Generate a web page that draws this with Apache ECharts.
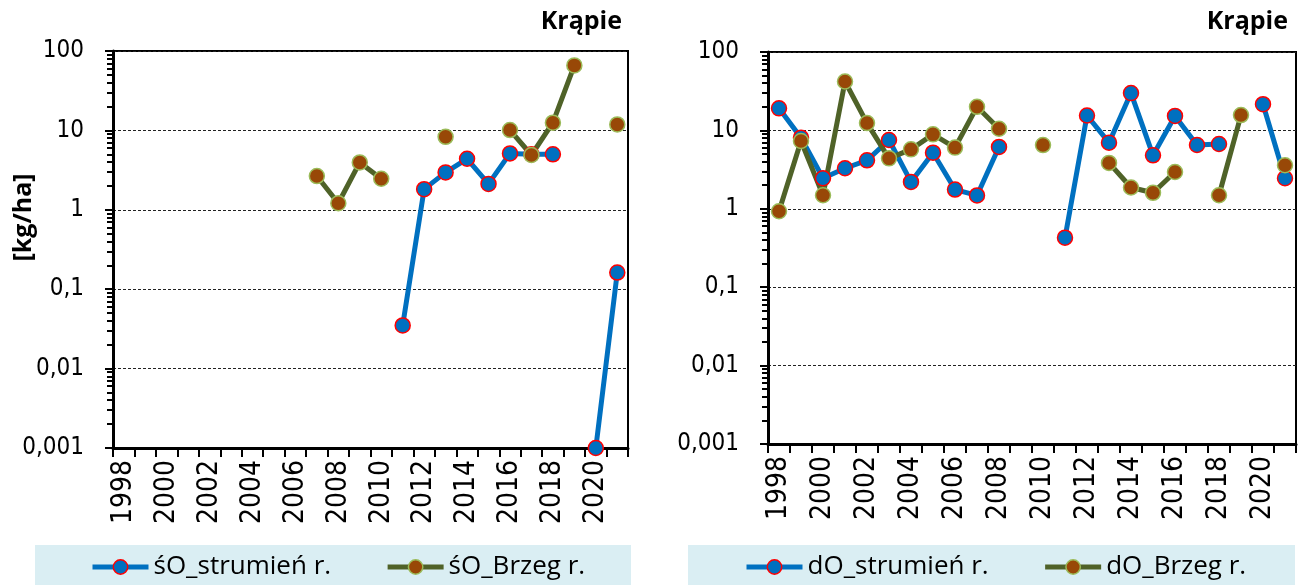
<!DOCTYPE html>
<html>
<head>
<meta charset="utf-8">
<script src="https://cdn.jsdelivr.net/npm/echarts@6/dist/echarts.min.js"></script>
<style>
html,body{margin:0;padding:0;background:#fff;}
#c{width:1299px;height:585px;}
</style>
</head>
<body>
<div id="c"></div>
<script>
// ---- data ----
var years = ['1998','1999','2000','2001','2002','2003','2004','2005','2006','2007','2008','2009','2010','2011','2012','2013','2014','2015','2016','2017','2018','2019','2020','2021'];
var yTickLabels = ['0,001','0,01','0,1','1','10','100'];
var titleText = 'Krąpie';
var yName = '[kg/ha]';

var soStrumien = [null,null,null,null,null,null,null,null,null,null,null,null,null,0.035,1.82,2.96,4.39,2.12,5.13,4.99,5.0,null,0.001,0.162];
var soBrzeg    = [null,null,null,null,null,null,null,null,null,2.66,1.21,3.95,2.46,null,null,8.3,null,null,10.1,4.9,12.5,65.9,null,11.9];
var doStrumien = [19.1,8.07,2.45,3.29,4.15,7.55,2.2,5.2,1.76,1.48,6.15,null,null,0.428,15.5,6.98,29.9,4.81,15.3,6.52,6.71,null,21.6,2.45];
var doBrzeg    = [0.93,7.33,1.49,42,12.4,4.4,5.73,8.9,6.03,20.0,10.5,null,6.5,null,null,3.85,1.87,1.6,2.95,null,1.49,15.7,null,3.59];

var names = ['śO_strumień r.','śO_Brzeg r.','dO_strumień r.','dO_Brzeg r.'];

// ---- styles ----
var BLUE = '#0070C0', GREEN = '#4F6228', BROWN = '#984807';
var tickFont = 'DejaVu Sans Condensed, DejaVu Sans';
var textFont = 'Open Sans';

var minorVals = [];
[0.001,0.01,0.1,1,10].forEach(function(d){ for (var k=2;k<=9;k++) minorVals.push(+(k*d).toPrecision(3)); });

function fmt(v){
  var s = String(+Number(v).toPrecision(6));
  var map = {'0.001':0,'0.01':1,'0.1':2,'1':3,'10':4,'100':5};
  return map[s] !== undefined ? yTickLabels[map[s]] : s.replace('.', ',');
}

function mainY(grid, withName){
  var a = {
    type:'log', logBase:10, min:0.001, max:100, gridIndex:grid, position:'left',
    axisLine:{show:true, lineStyle:{color:'#000', width:3}},
    axisTick:{show:true, length:8, lineStyle:{color:'#000', width:2}},
    axisLabel:{formatter:fmt, color:'#000', fontFamily:tickFont, fontSize:24, margin:29},
    splitLine:{show:true, lineStyle:{color:'#222', width:1, type:[3,2]}},
    minorTick:{show:false}
  };
  if (withName){
    a.name = yName; a.nameLocation='middle'; a.nameGap=77; a.nameMoveOverlap=false;
    a.nameTextStyle = {fontFamily:textFont, fontWeight:'bold', fontSize:25, color:'#000', padding:[0,0,0,64]};
  }
  return a;
}
function minorY(grid){
  return {
    type:'log', logBase:10, min:0.001, max:100, gridIndex:grid, position:'left', offset:0,
    axisLine:{show:false},
    axisTick:{show:true, length:6, customValues:minorVals, lineStyle:{color:'#000', width:2}},
    axisLabel:{show:false}, splitLine:{show:false}
  };
}
function xAx(grid){
  return {
    type:'category', data:years, gridIndex:grid, boundaryGap:true,
    axisLine:{show:true, onZero:false, lineStyle:{color:'#000', width:3}},
    axisTick:{show:true, interval:0, length:9, lineStyle:{color:'#000', width:2}},
    axisLabel:{interval:1, rotate:90, color:'#000', fontFamily:tickFont, fontSize:28, margin:12},
    splitLine:{show:false}
  };
}
function ser(name, data, xi, yi, lineColor, fill, border){
  return {
    name:name, type:'line', data:data, xAxisIndex:xi, yAxisIndex:yi,
    connectNulls:false, showSymbol:true, showAllSymbol:true, symbol:'circle', symbolSize:15,
    clip:false,
    lineStyle:{color:lineColor, width:5},
    itemStyle:{color:fill, borderColor:border, borderWidth:1.5},
    emphasis:{disabled:true}
  };
}
function leg(list, left){
  return {
    data:list, left:left, top:554, itemWidth:56, itemHeight:18, itemGap:54, padding:0,
    lineStyle:{width:5}, itemStyle:{borderWidth:1.5},
    textStyle:{fontFamily:textFont, fontSize:26, color:'#000'}, selectedMode:false
  };
}

var chart = echarts.init(document.getElementById('c'), null, {renderer:'canvas'});
chart.setOption({
  animation:false,
  backgroundColor:'#fff',
  graphic:[
    {type:'rect', left:35, top:545, shape:{width:596, height:40}, style:{fill:'#DAEEF3'}, z:-10},
    {type:'rect', left:688, top:545, shape:{width:607, height:40}, style:{fill:'#DAEEF3'}, z:-10}
  ],
  title:[
    {text:titleText, right:677, top:9, padding:0, textStyle:{fontFamily:textFont, fontWeight:'bold', fontSize:25, color:'#000'}},
    {text:titleText, right:11, top:9, padding:0, textStyle:{fontFamily:textFont, fontWeight:'bold', fontSize:25, color:'#000'}}
  ],
  grid:[
    {left:113, top:51, width:515, height:397, show:true, borderColor:'#000', borderWidth:2, backgroundColor:'transparent', containLabel:false, outerBoundsMode:'none'},
    {left:768, top:52, width:528, height:392, show:true, borderColor:'#000', borderWidth:2, backgroundColor:'transparent', containLabel:false, outerBoundsMode:'none'}
  ],
  xAxis:[xAx(0), xAx(1)],
  yAxis:[mainY(0,true), minorY(0), mainY(1,false), minorY(1)],
  legend:[leg([names[0],names[1]], 90), leg([names[2],names[3]], 744)],
  series:[
    ser(names[0], soStrumien, 0, 0, BLUE, BLUE, '#FF0000'),
    ser(names[1], soBrzeg, 0, 0, GREEN, BROWN, '#9BBB59'),
    ser(names[2], doStrumien, 1, 2, BLUE, BLUE, '#FF0000'),
    ser(names[3], doBrzeg, 1, 2, GREEN, BROWN, '#9BBB59')
  ]
});
</script>
</body>
</html>
